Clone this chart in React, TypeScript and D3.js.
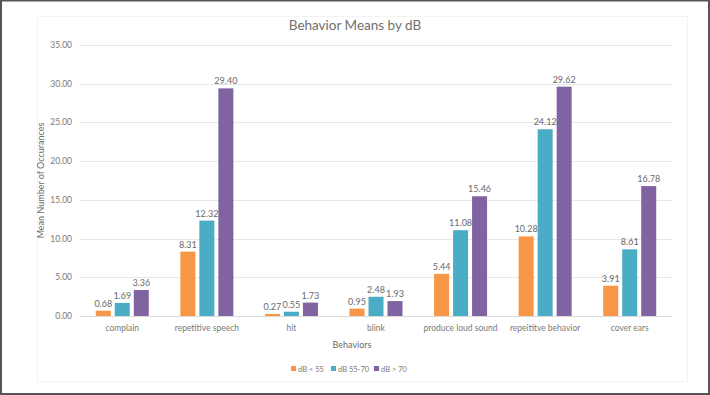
import React from "react";
import * as d3 from "d3";

// chart data
const behaviors = [
	"complain",
	"repetitive speech",
	"hit",
	"blink",
	"produce loud sound",
	"repeititve behavior",
	"cover ears",
];
const seriesNames = ["dB < 55", "dB 55-70", "dB > 70"];
const low = [0.68, 8.31, 0.27, 0.95, 5.44, 10.28, 3.91];
const mid = [1.69, 12.32, 0.55, 2.48, 11.08, 24.12, 8.61];
const high = [3.36, 29.4, 1.73, 1.93, 15.46, 29.62, 16.78];
const yTicks = [0, 5, 10, 15, 20, 25, 30, 35];

const colors = ["#F79646", "#4BACC6", "#8064A2"];
const W = 710;
const H = 395;
const FONT = "Lato, 'Open Sans', sans-serif";
const TEXT = "#6a6a6a";

const App: React.FC = () => {
	const plot = { left: 80, right: 672, top: 45, bottom: 316 };
	const series = [low, mid, high];

	const x = d3
		.scaleBand<string>()
		.domain(behaviors)
		.range([plot.left, plot.right]);
	const y = d3.scaleLinear().domain([0, 35]).range([plot.bottom, plot.top]);

	const barW = 15;
	const barGap = 4;
	const groupW = barW * 3 + barGap * 2;

	// legend x positions (square left edges)
	const legendX = [291, 331, 374];

	return (
		<div style={{ position: "fixed", left: 0, top: 0 }}>
			<svg width={W} height={H} style={{ display: "block" }}>
				<rect x={0} y={0} width={W} height={H} fill="#fff" />
				{/* faint chart area border */}
				<rect
					x={37.5}
					y={16.5}
					width={650}
					height={365}
					fill="none"
					stroke="#f3f3f3"
				/>
				{/* outer frame */}
				<rect
					x={1}
					y={0.5}
					width={W - 2}
					height={H - 1.5}
					fill="none"
					stroke="#555"
					strokeWidth={2}
				/>

				<text
					x={355}
					y={30}
					textAnchor="middle"
					fontFamily={FONT}
					fontSize={13.5}
					fill="#707070"
				>
					Behavior Means by dB
				</text>

				{/* gridlines + y ticks */}
				{yTicks.map((t) => (
					<g key={t}>
						<line
							x1={plot.left}
							x2={plot.right}
							y1={Math.round(y(t)) + 0.5}
							y2={Math.round(y(t)) + 0.5}
							stroke={t === 0 ? "#d9d9d9" : "#e8e8e8"}
						/>
						<text
							x={72}
							y={y(t) + 3}
							textAnchor="end"
							fontFamily={FONT}
							fontSize={8.5}
							fill="#7a7a7a"
						>
							{t.toFixed(2)}
						</text>
					</g>
				))}

				<text
					transform={`translate(44,${(plot.top + plot.bottom) / 2}) rotate(-90)`}
					textAnchor="middle"
					fontFamily={FONT}
					fontSize={9}
					fill={TEXT}
				>
					Mean Number of Occurances
				</text>

				{/* bars */}
				{behaviors.map((b) => {
					const cx = (x(b) as number) + x.bandwidth() / 2;
					const x0 = cx - groupW / 2;
					return (
						<g key={b}>
							{series.map((s, si) => {
								const v = s[behaviors.indexOf(b)];
								const bx = x0 + si * (barW + barGap);
								return (
									<g key={si}>
										<rect
											x={bx}
											y={y(v)}
											width={barW}
											height={y(0) - y(v)}
											fill={colors[si]}
										/>
										<text
											x={bx + barW / 2}
											y={y(v) - 4}
											textAnchor="middle"
											fontFamily={FONT}
											fontSize={9}
											fill={TEXT}
										>
											{v.toFixed(2)}
										</text>
									</g>
								);
							})}
							<text
								x={cx}
								y={331}
								textAnchor="middle"
								fontFamily={FONT}
								fontSize={8.5}
								fill="#7a7a7a"
							>
								{b}
							</text>
						</g>
					);
				})}

				<text
					x={352}
					y={348}
					textAnchor="middle"
					fontFamily={FONT}
					fontSize={9}
					fill={TEXT}
				>
					Behaviors
				</text>

				{/* legend */}
				{seriesNames.map((name, i) => (
					<g key={name}>
						<rect
							x={legendX[i]}
							y={366}
							width={5}
							height={5}
							fill={colors[i]}
						/>
						<text
							x={legendX[i] + 7}
							y={371.5}
							fontFamily={FONT}
							fontSize={7.5}
							fill="#7a7a7a"
						>
							{name}
						</text>
					</g>
				))}
			</svg>
		</div>
	);
};

export default App;
